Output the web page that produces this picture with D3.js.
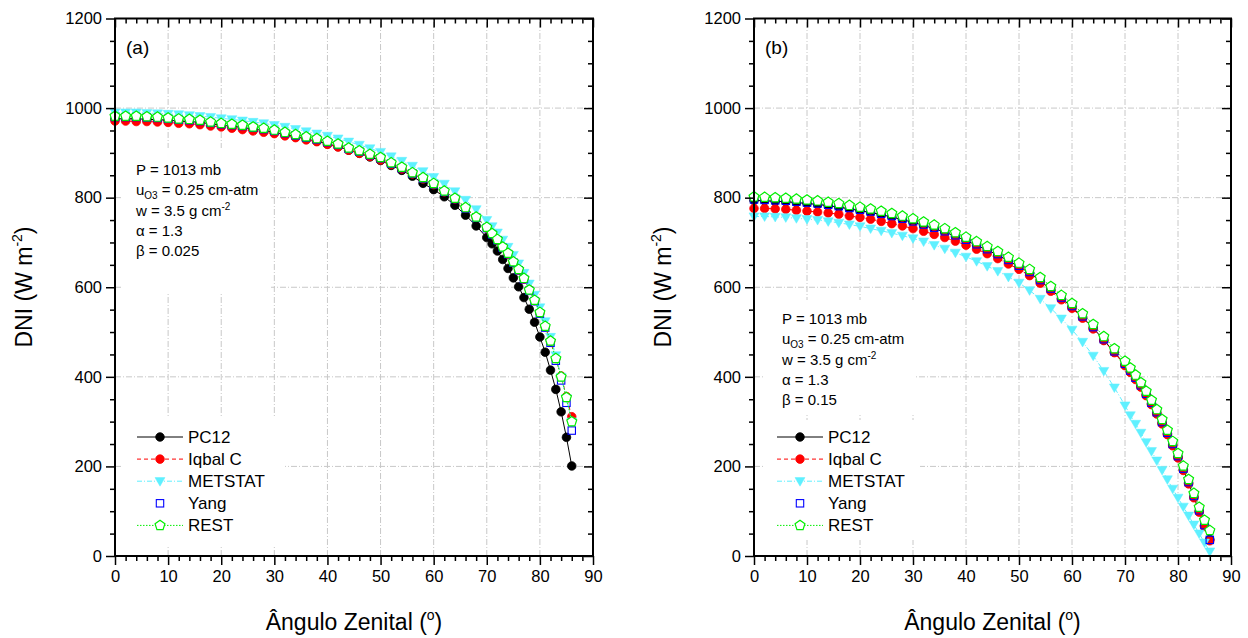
<!DOCTYPE html>
<html><head><meta charset="utf-8">
<script src="https://cdn.jsdelivr.net/npm/d3@7"></script>
<style>
body{margin:0;background:#fff}
svg{display:block}
text{font-family:"Liberation Sans",Arial,sans-serif;fill:#000}
</style>
</head><body>
<svg id="c" width="1248" height="638"></svg>
<script>
// ---------- data ----------
const angles=[0,2,4,6,8,10,12,14,16,18,20,22,24,26,28,30,32,34,36,38,40,42,44,46,48,50,52,54,56,58,60,62,64,66,68,70,71,72,73,74,75,76,77,78,79,80,81,82,83,84,85,86];
const xTickLabels=[0,10,20,30,40,50,60,70,80,90];
const yTickLabels=[0,200,400,600,800,1000,1200];
const seriesNames=["PC12","Iqbal C","METSTAT","Yang","REST"];

// panel (a)
const a_PC12=[976,976,976,975,974,973,971,970,968,965,962,959,957,953,950,946,941,936,931,926,920,914,906,899,891,883,872,861,848,832,818,802,783,761,737,711,697,681,662,642,621,601,577,551,522,489,455,415,372,322,265,201];
const a_Iqbal=[971,971,970,970,969,968,966,965,963,960,958,955,952,949,946,943,938,934,929,925,919,913,906,899,892,884,874,864,853,842,829,813,797,777,756,732,719,705,689,674,656,638,618,595,570,543,512,479,441,402,356,311];
const a_METSTAT=[990,990,990,989,988,987,986,984,982,980,977,975,972,969,966,962,958,953,948,943,938,932,925,918,910,902,892,882,871,859,846,831,814,795,774,750,736,722,706,690,672,653,632,608,583,555,524,489,448,400,352,300];
const a_Yang=[980,980,980,979,978,976,974,973,971,967,964,962,960,956,953,949,944,939,934,930,924,918,909,903,895,888,876,866,854,843,830,813,797,776,755,732,718,705,688,674,655,638,618,592,569,541,510,476,436,392,342,280];
const a_REST=[982,982,982,981,980,978,976,975,973,969,966,964,962,958,955,951,946,941,936,932,926,920,911,905,897,890,878,868,856,845,832,815,799,778,757,734,720,707,690,676,657,640,620,594,571,544,513,480,441,400,354,300];

// panel (b)
const b_PC12=[794,793,792,791,789,787,785,782,779,775,771,767,762,757,751,745,738,731,723,714,704,694,683,672,659,646,632,614,595,575,556,533,509,482,455,427,412,396,379,360,340,319,297,273,248,221,193,163,132,100,68,37];
const b_Iqbal=[776,776,775,774,772,770,768,766,763,759,756,752,747,742,737,731,725,718,711,703,694,685,675,664,652,640,626,609,591,572,553,531,507,481,454,425,410,394,377,358,338,317,295,271,246,219,191,161,130,98,66,34];
const b_METSTAT=[758,758,757,756,754,752,750,747,744,740,736,731,726,721,715,709,702,694,686,677,668,658,647,636,623,610,593,574,553,530,505,478,447,413,376,336,314,295,275,254,234,213,192,171,150,130,110,90,70,50,30,10];
const b_Yang=[796,795,794,793,791,789,787,784,781,777,773,769,764,759,753,747,740,733,725,716,706,696,685,674,661,648,634,616,597,577,558,535,511,484,457,429,414,398,381,362,342,321,299,275,250,223,195,165,134,102,69,36];
const b_REST=[802,801,800,799,797,795,793,790,787,783,779,775,770,765,759,753,746,739,731,722,712,702,691,680,667,654,640,622,602,582,564,541,517,490,463,435,420,404,387,368,348,327,305,281,256,229,201,171,140,109,80,57];

const panelLabels=["(a)","(b)"];
const betaLabels=["β = 0.025","β = 0.15"];

// ---------- drawing ----------
const svg=d3.select("#c");
const y=d3.scaleLinear().domain([0,1200]).range([556,18.5]);

const styles=[
  {color:"#000000",fill:"#000000",marker:"circle",dash:null,line:true},
  {color:"#ff0000",fill:"#ff0000",marker:"circle",dash:"4,3",line:true},
  {color:"#5ff0ff",fill:"#5ff0ff",marker:"triangle",dash:"5,2,1,2",line:true},
  {color:"#0000ff",fill:"none",marker:"square",dash:null,line:false},
  {color:"#00ee00",fill:"#ffffff",marker:"pentagon",dash:"1.5,1.5",line:true}
];

function pentagonPath(r){
  const pts=d3.range(5).map(k=>{const a=-Math.PI/2+k*2*Math.PI/5;return [r*Math.cos(a),r*Math.sin(a)];});
  return "M"+pts.map(p=>p.join(",")).join("L")+"Z";
}
function drawMarker(sel,st){
  if(st.marker==="circle"){
    sel.append("circle").attr("r",4.3).attr("fill",st.fill).attr("stroke",st.color).attr("stroke-width",0.8);
  }else if(st.marker==="triangle"){
    sel.append("path").attr("d","M-5,-3.6L5,-3.6L0,5Z").attr("fill",st.fill).attr("stroke",st.color).attr("stroke-width",0.5);
  }else if(st.marker==="square"){
    sel.append("rect").attr("x",-3.7).attr("y",-3.7).attr("width",7.4).attr("height",7.4).attr("fill","none").attr("stroke",st.color).attr("stroke-width",1.1);
  }else{
    sel.append("path").attr("d",pentagonPath(5.2)).attr("fill",st.fill).attr("stroke",st.color).attr("stroke-width",1.2);
  }
}

const panels=[
  {x0:115,x1:593,data:[a_PC12,a_Iqbal,a_METSTAT,a_Yang,a_REST],
   annot:[136,175],annotBox:[123,148,148,145],leg:[137,437],legBox:[123,418,162,128],ytx:32,beta:0},
  {x0:754,x1:1231,data:[b_PC12,b_Iqbal,b_METSTAT,b_Yang,b_REST],
   annot:[782,324],annotBox:[765,300,150,115],leg:[777,437],legBox:[765,420,155,120],ytx:671,beta:1}
];

panels.forEach((p,pi)=>{
  const x=d3.scaleLinear().domain([0,90]).range([p.x0,p.x1]);
  const g=svg.append("g");
  // grid
  g.selectAll(".vg").data(xTickLabels.filter(v=>v>0&&v<90)).join("line")
    .attr("x1",d=>x(d)).attr("x2",d=>x(d)).attr("y1",y(0)).attr("y2",y(1200))
    .attr("stroke","#c8c8c8").attr("stroke-width",1).attr("stroke-dasharray","6,2,1,2");
  g.selectAll(".hg").data(yTickLabels.filter(v=>v>0&&v<1200)).join("line")
    .attr("x1",x(0)).attr("x2",x(90)).attr("y1",d=>y(d)).attr("y2",d=>y(d))
    .attr("stroke","#c8c8c8").attr("stroke-width",1).attr("stroke-dasharray","6,2,1,2");
  // white boxes behind annotation & legend
  g.append("rect").attr("x",p.annotBox[0]).attr("y",p.annotBox[1]).attr("width",p.annotBox[2]).attr("height",p.annotBox[3]).attr("fill","#fff");
  g.append("rect").attr("x",p.legBox[0]).attr("y",p.legBox[1]).attr("width",p.legBox[2]).attr("height",p.legBox[3]).attr("fill","#fff");

  // series
  p.data.forEach((vals,si)=>{
    const st=styles[si];
    const pts=angles.map((a,i)=>[a,vals[i]]);
    if(st.line){
      g.append("path").datum(pts)
        .attr("d",d3.line().x(d=>x(d[0])).y(d=>y(d[1])))
        .attr("fill","none").attr("stroke",st.color).attr("stroke-width",1)
        .attr("stroke-dasharray",st.dash);
    }
    const m=g.append("g").selectAll("g").data(pts).join("g")
      .attr("transform",d=>`translate(${x(d[0])},${y(d[1])})`);
    drawMarker(m,st);
  });

  // axes
  const minorX=d3.range(0,91,2).filter(v=>v%10!==0);
  const minorY=d3.range(0,1201,50).filter(v=>v%200!==0);
  const fmt=d3.format("d");
  const styleAxis=s=>{s.select(".domain").remove();s.selectAll("line").attr("stroke","#000").attr("stroke-width",1.5);
    s.selectAll("text").attr("font-size",16.5).attr("font-family","Liberation Sans, Arial, sans-serif");};
  g.append("g").attr("transform",`translate(0,${y(0)})`)
    .call(d3.axisBottom(x).tickValues(xTickLabels).tickFormat(fmt).tickSize(9).tickSizeOuter(0).tickPadding(5)).call(styleAxis);
  g.append("g").attr("transform",`translate(0,${y(0)})`)
    .call(d3.axisBottom(x).tickValues(minorX).tickSize(5).tickFormat("")).call(styleAxis);
  g.append("g").attr("transform",`translate(0,${y(1200)})`)
    .call(d3.axisTop(x).tickValues(xTickLabels).tickSize(-9).tickFormat("")).call(styleAxis);
  g.append("g").attr("transform",`translate(0,${y(1200)})`)
    .call(d3.axisTop(x).tickValues(minorX).tickSize(-5).tickFormat("")).call(styleAxis);
  g.append("g").attr("transform",`translate(${x(0)},0)`)
    .call(d3.axisLeft(y).tickValues(yTickLabels).tickFormat(fmt).tickSize(9).tickSizeOuter(0).tickPadding(4)).call(styleAxis);
  g.append("g").attr("transform",`translate(${x(0)},0)`)
    .call(d3.axisLeft(y).tickValues(minorY).tickSize(5).tickFormat("")).call(styleAxis);
  g.append("g").attr("transform",`translate(${x(90)},0)`)
    .call(d3.axisRight(y).tickValues(yTickLabels).tickSize(-9).tickFormat("")).call(styleAxis);
  g.append("g").attr("transform",`translate(${x(90)},0)`)
    .call(d3.axisRight(y).tickValues(minorY).tickSize(-5).tickFormat("")).call(styleAxis);
  g.append("rect").attr("x",x(0)).attr("y",y(1200)).attr("width",x(90)-x(0)).attr("height",y(0)-y(1200))
    .attr("fill","none").attr("stroke","#000").attr("stroke-width",2);

  // panel label
  g.append("text").attr("x",x(0)+11).attr("y",y(1200)+35).attr("font-size",19).text(panelLabels[pi]);

  // axis titles
  const xt=g.append("text").attr("x",(x(0)+x(90))/2).attr("y",630).attr("text-anchor","middle").attr("font-size",23);
  xt.append("tspan").text("Ângulo Zenital (");
  xt.append("tspan").attr("font-size",14).attr("dy",-10).text("o");
  xt.append("tspan").attr("dy",10).text(")");
  const yt=g.append("text").attr("transform",`translate(${p.ytx},${287}) rotate(-90)`).attr("text-anchor","middle").attr("font-size",23);
  yt.append("tspan").text("DNI (W m");
  yt.append("tspan").attr("font-size",14).attr("dy",-10).text("-2");
  yt.append("tspan").attr("dy",10).text(")");

  // annotation
  const ax=p.annot[0], ay=p.annot[1], lh=20.3, fs=15;
  g.append("text").attr("x",ax).attr("y",ay).attr("font-size",fs).text("P = 1013 mb");
  const t1=g.append("text").attr("x",ax).attr("y",ay+lh).attr("font-size",fs);
  t1.append("tspan").text("u");
  t1.append("tspan").attr("font-size",10).attr("dy",4).text("O3");
  t1.append("tspan").attr("dy",-4).text(" = 0.25 cm-atm");
  const t2=g.append("text").attr("x",ax).attr("y",ay+2*lh).attr("font-size",fs);
  t2.append("tspan").text("w = 3.5 g cm");
  t2.append("tspan").attr("font-size",10).attr("dy",-6).text("-2");
  g.append("text").attr("x",ax).attr("y",ay+3*lh).attr("font-size",fs).text("α = 1.3");
  g.append("text").attr("x",ax).attr("y",ay+4*lh).attr("font-size",fs).text(betaLabels[p.beta]);

  // legend
  seriesNames.forEach((name,si)=>{
    const st=styles[si];
    const ly=p.leg[1]+si*22.1;
    const lx=p.leg[0];
    if(st.line){
      g.append("line").attr("x1",lx).attr("x2",lx+46).attr("y1",ly).attr("y2",ly)
        .attr("stroke",st.color).attr("stroke-width",1).attr("stroke-dasharray",st.dash);
    }
    const mg=g.append("g").attr("transform",`translate(${lx+23},${ly})`);
    drawMarker(mg,st);
    g.append("text").attr("x",lx+51).attr("y",ly+6).attr("font-size",17).text(name);
  });
});
</script>
</body></html>
